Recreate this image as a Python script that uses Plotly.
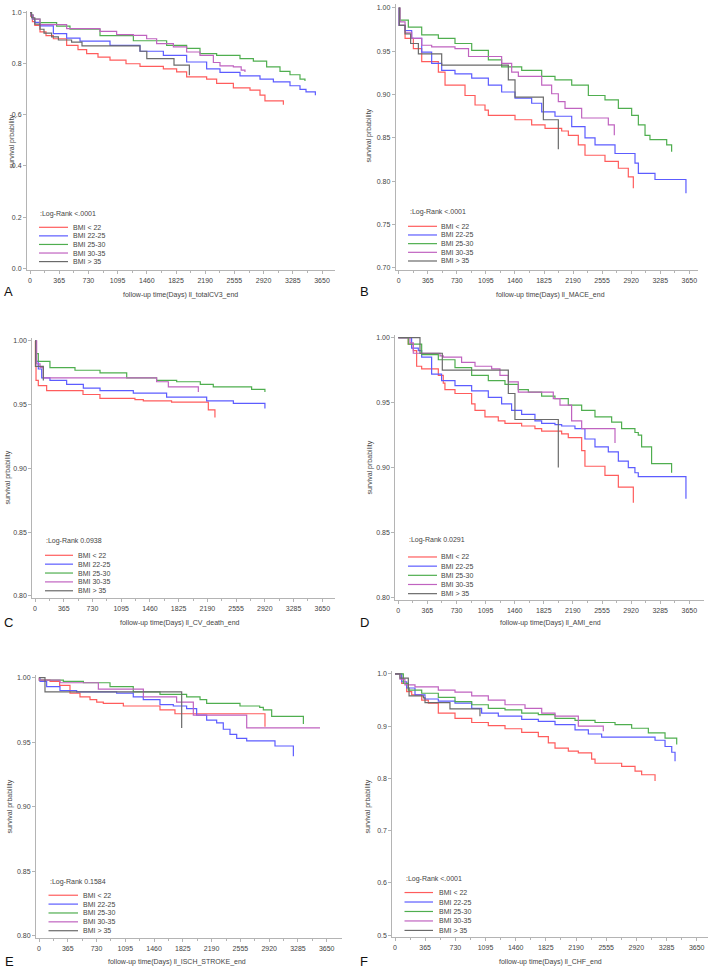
import plotly.graph_objects as go

W, H = 710, 970

GROUPS = ["BMI < 22", "BMI 22-25", "BMI 25-30", "BMI 30-35", "BMI > 35"]
COLORS = ["#ff5c5c", "#5c5cff", "#4fae4f", "#c063c0", "#6a6a6a"]
X_TICKS = [0, 365, 730, 1095, 1460, 1825, 2190, 2555, 2920, 3285, 3650]

# ---------------- Panel A : totalCV3 ----------------
A_T_LT22 = [0, 10, 30, 60, 125, 200, 292, 458, 600, 708, 850, 1000, 1200, 1375, 1667, 1833, 1958, 2208, 2333, 2542, 2750, 2875, 2937, 3167]
A_S_LT22 = [1, 0.985, 0.965, 0.95, 0.925, 0.91, 0.898, 0.872, 0.855, 0.84, 0.826, 0.814, 0.80, 0.79, 0.78, 0.768, 0.749, 0.74, 0.723, 0.706, 0.697, 0.677, 0.655, 0.64]
A_T_22_25 = [0, 10, 30, 60, 125, 292, 458, 625, 1000, 1375, 1667, 1958, 2208, 2375, 2625, 2875, 3042, 3250, 3375, 3450, 3567]
A_S_22_25 = [1, 0.99, 0.975, 0.962, 0.948, 0.918, 0.90, 0.889, 0.872, 0.849, 0.833, 0.807, 0.78, 0.766, 0.753, 0.74, 0.729, 0.714, 0.70, 0.69, 0.677]
A_T_25_30 = [0, 10, 40, 125, 333, 500, 875, 1292, 1708, 1958, 2125, 2333, 2625, 2792, 2958, 3125, 3250, 3375, 3437]
A_S_25_30 = [1, 0.99, 0.975, 0.961, 0.947, 0.935, 0.91, 0.89, 0.872, 0.86, 0.84, 0.833, 0.82, 0.81, 0.788, 0.77, 0.757, 0.74, 0.733]
A_T_30_35 = [0, 10, 40, 125, 458, 875, 1083, 1292, 1458, 1583, 1792, 1958, 2125, 2292, 2375, 2542, 2640, 2687]
A_S_30_35 = [1, 0.99, 0.975, 0.953, 0.9375, 0.927, 0.914, 0.911, 0.898, 0.879, 0.866, 0.846, 0.833, 0.805, 0.792, 0.788, 0.775, 0.768]
A_T_GT35 = [0, 20, 60, 125, 175, 270, 355, 520, 650, 1375, 1460, 1800, 1992]
A_S_GT35 = [1, 0.98, 0.955, 0.935, 0.92, 0.905, 0.893, 0.885, 0.87, 0.849, 0.82, 0.795, 0.755]

# ---------------- Panel B : MACE ----------------
B_T_LT22 = [0, 5, 80, 184, 289, 498, 582, 833, 959, 1084, 1126, 1461, 1670, 1838, 2047, 2131, 2256, 2340, 2591, 2759, 2884, 2947]
B_S_LT22 = [1, 0.98, 0.965, 0.953, 0.938, 0.926, 0.911, 0.899, 0.888, 0.882, 0.876, 0.871, 0.865, 0.861, 0.858, 0.853, 0.842, 0.830, 0.823, 0.815, 0.805, 0.792]
B_T_22_25 = [0, 5, 80, 163, 289, 414, 540, 707, 917, 1126, 1293, 1461, 1670, 1796, 1963, 2173, 2340, 2466, 2717, 2968, 3010, 3219, 3608]
B_S_22_25 = [1, 0.98, 0.974, 0.965, 0.949, 0.936, 0.928, 0.924, 0.919, 0.911, 0.903, 0.896, 0.89, 0.88, 0.875, 0.863, 0.85, 0.842, 0.832, 0.821, 0.809, 0.802, 0.786]
B_T_25_30 = [0, 17, 121, 289, 498, 707, 917, 1126, 1293, 1545, 1796, 1963, 2173, 2382, 2591, 2759, 2926, 3010, 3094, 3156, 3366, 3428]
B_S_25_30 = [1, 0.986, 0.978, 0.969, 0.965, 0.959, 0.951, 0.94, 0.932, 0.928, 0.921, 0.917, 0.911, 0.899, 0.894, 0.884, 0.876, 0.865, 0.853, 0.848, 0.842, 0.834]
B_T_30_35 = [0, 17, 80, 163, 289, 414, 707, 877, 1293, 1419, 1503, 1796, 1921, 2005, 2089, 2298, 2633, 2708]
B_S_30_35 = [1, 0.984, 0.972, 0.965, 0.957, 0.955, 0.953, 0.944, 0.936, 0.926, 0.921, 0.911, 0.901, 0.892, 0.884, 0.873, 0.865, 0.853]
B_T_GT35 = [0, 8, 80, 150, 247, 540, 1377, 1461, 1817, 2005]
B_S_GT35 = [1, 0.98, 0.97, 0.959, 0.947, 0.934, 0.917, 0.897, 0.871, 0.837]

# ---------------- Panel C : CV death ----------------
C_T_LT22 = [0, 5, 13, 42, 148, 610, 825, 1270, 1376, 1735, 2202, 2286]
C_S_LT22 = [1, 0.98, 0.969, 0.965, 0.961, 0.958, 0.955, 0.954, 0.953, 0.952, 0.946, 0.94]
C_T_22_25 = [0, 13, 42, 85, 190, 402, 614, 826, 1249, 1672, 2181, 2520, 2921]
C_S_22_25 = [1, 0.984, 0.978, 0.971, 0.969, 0.966, 0.963, 0.961, 0.959, 0.956, 0.953, 0.951, 0.947]
C_T_25_30 = [0, 13, 42, 190, 508, 826, 1165, 1545, 1800, 2100, 2265, 2752, 2921]
C_S_25_30 = [1, 0.99, 0.984, 0.979, 0.977, 0.975, 0.971, 0.969, 0.968, 0.966, 0.964, 0.962, 0.96]
C_T_30_35 = [0, 21, 64, 106, 1545, 1694, 2075]
C_S_30_35 = [1, 0.982, 0.979, 0.971, 0.968, 0.964, 0.96]
C_T_GT35 = [0, 8, 106]
C_S_GT35 = [1, 0.98, 0.969]

# ---------------- Panel D : AMI ----------------
D_T_LT22 = [0, 125, 188, 230, 293, 502, 564, 585, 711, 920, 962, 1087, 1254, 1338, 1547, 1714, 1798, 2049, 2132, 2300, 2341, 2592, 2760, 2948]
D_S_LT22 = [1, 0.995, 0.99, 0.978, 0.976, 0.971, 0.965, 0.96, 0.957, 0.949, 0.944, 0.939, 0.936, 0.934, 0.932, 0.93, 0.928, 0.926, 0.923, 0.913, 0.901, 0.894, 0.885, 0.873]
D_T_22_25 = [0, 167, 251, 293, 418, 543, 711, 920, 1129, 1296, 1421, 1547, 1714, 1798, 1965, 2049, 2216, 2341, 2467, 2634, 2760, 2885, 2968, 3010, 3608]
D_S_22_25 = [1, 0.992, 0.99, 0.985, 0.972, 0.967, 0.963, 0.959, 0.954, 0.949, 0.944, 0.941, 0.936, 0.934, 0.933, 0.932, 0.93, 0.922, 0.916, 0.912, 0.905, 0.90, 0.896, 0.893, 0.876]
D_T_25_30 = [0, 125, 293, 502, 711, 920, 1129, 1338, 1505, 1631, 1798, 1965, 2132, 2300, 2467, 2676, 2801, 2968, 3010, 3052, 3177, 3428]
D_S_25_30 = [1, 0.995, 0.987, 0.983, 0.977, 0.971, 0.967, 0.964, 0.96, 0.958, 0.955, 0.953, 0.948, 0.944, 0.939, 0.935, 0.93, 0.927, 0.925, 0.916, 0.903, 0.896]
D_T_30_35 = [0, 146, 188, 523, 564, 794, 962, 1171, 1275, 1380, 1505, 1944, 2028, 2174, 2300, 2718]
D_S_30_35 = [1, 0.996, 0.988, 0.986, 0.985, 0.981, 0.978, 0.976, 0.971, 0.966, 0.958, 0.953, 0.948, 0.936, 0.93, 0.919]
D_T_GT35 = [0, 272, 552, 1380, 1463, 2007]
D_S_GT35 = [1, 0.988, 0.975, 0.957, 0.937, 0.90]

# ---------------- Panel E : ischemic stroke ----------------
E_T_LT22 = [0, 5, 140, 262, 393, 520, 647, 732, 816, 1070, 1535, 1725, 2867]
E_S_LT22 = [1, 0.998, 0.997, 0.994, 0.988, 0.985, 0.983, 0.981, 0.98, 0.978, 0.975, 0.972, 0.962]
E_T_22_25 = [0, 13, 97, 266, 478, 985, 1196, 1323, 1535, 1704, 1873, 2000, 2127, 2254, 2338, 2423, 2508, 2635, 2994, 3227]
E_S_22_25 = [1, 0.997, 0.993, 0.99, 0.989, 0.988, 0.985, 0.983, 0.979, 0.978, 0.976, 0.971, 0.967, 0.965, 0.96, 0.956, 0.953, 0.951, 0.947, 0.939]
E_T_25_30 = [0, 5, 309, 563, 901, 1196, 1535, 1873, 2043, 2127, 2550, 2800, 2846, 2952, 3354]
E_S_25_30 = [1, 0.998, 0.997, 0.996, 0.993, 0.989, 0.987, 0.985, 0.983, 0.98, 0.978, 0.977, 0.975, 0.97, 0.964]
E_T_30_35 = [0, 5, 266, 753, 1324, 1746, 1958, 2635, 3565]
E_S_30_35 = [1, 0.998, 0.996, 0.991, 0.985, 0.981, 0.971, 0.961, 0.961]
E_T_GT35 = [0, 76, 1810]
E_S_GT35 = [1, 0.989, 0.961]

# ---------------- Panel F : CHF ----------------
F_T_LT22 = [0, 81, 141, 202, 323, 403, 524, 726, 928, 1129, 1331, 1533, 1734, 1855, 1936, 2097, 2218, 2379, 2420, 2742, 2904, 2984, 3146]
F_S_LT22 = [1, 0.982, 0.966, 0.96, 0.95, 0.944, 0.925, 0.915, 0.907, 0.901, 0.895, 0.888, 0.88, 0.868, 0.858, 0.852, 0.849, 0.837, 0.829, 0.823, 0.814, 0.807, 0.795]
F_T_22_25 = [0, 81, 141, 242, 363, 524, 726, 928, 1048, 1250, 1533, 1734, 1936, 2178, 2339, 2500, 3146, 3267, 3348, 3388]
F_S_22_25 = [1, 0.985, 0.973, 0.96, 0.952, 0.948, 0.944, 0.934, 0.925, 0.919, 0.913, 0.909, 0.903, 0.893, 0.885, 0.879, 0.873, 0.861, 0.85, 0.833]
F_T_25_30 = [0, 101, 161, 323, 524, 726, 928, 1129, 1331, 1533, 1734, 1936, 2178, 2420, 2662, 2863, 3065, 3267, 3408]
F_S_25_30 = [1, 0.982, 0.969, 0.963, 0.955, 0.947, 0.941, 0.934, 0.931, 0.925, 0.922, 0.915, 0.911, 0.907, 0.903, 0.896, 0.887, 0.877, 0.865]
F_T_30_35 = [0, 60, 120, 242, 524, 726, 928, 1129, 1331, 1573, 1775, 1936, 2218, 2520]
F_S_30_35 = [1, 0.99, 0.979, 0.975, 0.969, 0.965, 0.958, 0.95, 0.941, 0.934, 0.925, 0.919, 0.90, 0.89]
F_T_GT35 = [0, 60, 161, 170, 343, 363, 665, 1028]
F_S_GT35 = [1, 0.992, 0.973, 0.958, 0.954, 0.945, 0.933, 0.919]

PANEL_LETTERS = ["A", "B", "C", "D", "E", "F"]
ENDPOINTS = ["ll_totalCV3_end", "ll_MACE_end", "ll_CV_death_end", "ll_AMI_end", "ll_ISCH_STROKE_end", "ll_CHF_end"]
LOGRANK = [":Log-Rank <.0001", ":Log-Rank <.0001", ":Log-Rank 0.0938", ":Log-Rank 0.0291", ":Log-Rank 0.1584", ":Log-Rank <.0001"]
Y_TICKS = [
    [0.0, 0.2, 0.4, 0.6, 0.8, 1.0],
    [0.70, 0.75, 0.80, 0.85, 0.90, 0.95, 1.00],
    [0.80, 0.85, 0.90, 0.95, 1.00],
    [0.80, 0.85, 0.90, 0.95, 1.00],
    [0.80, 0.85, 0.90, 0.95, 1.00],
    [0.5, 0.6, 0.7, 0.8, 0.9, 1.0],
]
Y_FMT = [".1f", ".2f", ".2f", ".2f", ".2f", ".1f"]

CURVES = [
    [(A_T_LT22, A_S_LT22), (A_T_22_25, A_S_22_25), (A_T_25_30, A_S_25_30), (A_T_30_35, A_S_30_35), (A_T_GT35, A_S_GT35)],
    [(B_T_LT22, B_S_LT22), (B_T_22_25, B_S_22_25), (B_T_25_30, B_S_25_30), (B_T_30_35, B_S_30_35), (B_T_GT35, B_S_GT35)],
    [(C_T_LT22, C_S_LT22), (C_T_22_25, C_S_22_25), (C_T_25_30, C_S_25_30), (C_T_30_35, C_S_30_35), (C_T_GT35, C_S_GT35)],
    [(D_T_LT22, D_S_LT22), (D_T_22_25, D_S_22_25), (D_T_25_30, D_S_25_30), (D_T_30_35, D_S_30_35), (D_T_GT35, D_S_GT35)],
    [(E_T_LT22, E_S_LT22), (E_T_22_25, E_S_22_25), (E_T_25_30, E_S_25_30), (E_T_30_35, E_S_30_35), (E_T_GT35, E_S_GT35)],
    [(F_T_LT22, F_S_LT22), (F_T_22_25, F_S_22_25), (F_T_25_30, F_S_25_30), (F_T_30_35, F_S_30_35), (F_T_GT35, F_S_GT35)],
]

# ---- layout geometry (pixels) ----
GEOM = [
    dict(xl=27, x0=30, x1=322, xr=335, yt=9, yb=269, v_hi=1.0, p_hi=10.7, v_lo=0.0, p_lo=267),
    dict(xl=395.7, x0=398.7, x1=689.3, xr=698, yt=2, yb=269, v_hi=1.0, p_hi=6, v_lo=0.70, p_lo=266.7),
    dict(xl=32.3, x0=35, x1=322.3, xr=335, yt=337, yb=598.3, v_hi=1.0, p_hi=340, v_lo=0.80, p_lo=595.7),
    dict(xl=395.3, x0=398.3, x1=689.3, xr=704, yt=334, yb=600, v_hi=1.0, p_hi=336.7, v_lo=0.80, p_lo=597.3),
    dict(xl=36, x0=39, x1=326.7, xr=342, yt=675, yb=939.3, v_hi=1.0, p_hi=677.7, v_lo=0.80, p_lo=936.7),
    dict(xl=392.3, x0=395, x1=696.7, xr=708, yt=671, yb=938.3, v_hi=1.0, p_hi=674, v_lo=0.50, p_lo=936),
]
LETTER_POS = [(8, 290), (364, 290), (8, 622), (364, 622), (9, 962), (364, 962)]
XTITLE_POS = [(180, 294), (550, 294), (180, 623), (550, 623), (177, 963), (550, 963)]
YTITLE_POS = [(12, 140), (369, 134), (8, 477), (370, 467), (10, 807), (368, 807)]
LEG_POS = [
    (38, 212.5, 39, 68, 226, 8.6, 71),
    (408, 210.7, 408, 437, 225, 8.7, 439),
    (44, 541, 45, 73, 555, 8.9, 76),
    (407, 540, 408, 437, 556.7, 9.2, 439),
    (48, 882.7, 48.5, 78, 896, 8.9, 81),
    (404, 880, 404.5, 433, 893.3, 9.5, 437),
]

FONT = "Liberation Sans Narrow, Arial Narrow, Liberation Sans, sans-serif"
TXT = "#444444"
AXC = "#b4b4b4"

def px(x):
    return x / W

def py(y):
    return 1 - y / H

fig = go.Figure()
layout = dict(
    width=W, height=H, margin=dict(l=0, r=0, t=0, b=0),
    paper_bgcolor="white", plot_bgcolor="white", showlegend=False,
    font=dict(family=FONT, size=7, color=TXT),
)
annotations = []
shapes = []

for i in range(6):
    g = GEOM[i]
    n = "" if i == 0 else str(i + 1)
    sx = (g["x1"] - g["x0"]) / 3650.0
    xr = [(g["xl"] - g["x0"]) / sx, (g["xr"] - g["x0"]) / sx]
    sy = (g["p_lo"] - g["p_hi"]) / (g["v_hi"] - g["v_lo"])
    yr = [g["v_lo"] - (g["yb"] - g["p_lo"]) / sy, g["v_hi"] + (g["p_hi"] - g["yt"]) / sy]
    layout["xaxis" + n] = dict(
        domain=[px(g["xl"]), px(g["xr"])], range=xr, anchor="y" + n,
        tickmode="array", tickvals=X_TICKS, ticktext=[str(v) for v in X_TICKS],
        showline=True, linecolor=AXC, linewidth=1, ticks="outside", ticklen=3,
        tickcolor=AXC, showgrid=False, zeroline=False, ticklabeloverflow="allow",
        minor=dict(tickmode="array", tickvals=[v + 182.5 for v in X_TICKS[:-1]],
                   ticks="outside", ticklen=2, tickcolor=AXC),
        tickfont=dict(family=FONT, size=7, color=TXT),
    )
    layout["yaxis" + n] = dict(
        domain=[py(g["yb"]), py(g["yt"])], range=yr, anchor="x" + n,
        tickmode="array", tickvals=Y_TICKS[i], tickformat=Y_FMT[i],
        showline=True, linecolor=AXC, linewidth=1, ticks="outside", ticklen=3,
        tickcolor=AXC, showgrid=False, zeroline=False,
        tickfont=dict(family=FONT, size=7, color=TXT),
    )
    for k, (t, s) in enumerate(CURVES[i]):
        fig.add_trace(go.Scatter(
            x=t, y=s, mode="lines", line=dict(color=COLORS[k], width=1.2, shape="hv"),
            name=GROUPS[k], xaxis="x" + n, yaxis="y" + n, hoverinfo="skip",
        ))
    lx, ly = LETTER_POS[i]
    annotations.append(dict(text=PANEL_LETTERS[i], x=px(lx), y=py(ly), xref="paper", yref="paper",
                            showarrow=False, xanchor="center", yanchor="middle",
                            font=dict(family="Liberation Sans, sans-serif", size=13, color="#111111")))
    tx, ty = XTITLE_POS[i]
    annotations.append(dict(text="follow-up time(Days) " + ENDPOINTS[i], x=px(tx), y=py(ty),
                            xref="paper", yref="paper", showarrow=False,
                            xanchor="center", yanchor="middle", font=dict(size=7, color=TXT)))
    yx, yy = YTITLE_POS[i]
    annotations.append(dict(text="survival prbability", x=px(yx), y=py(yy), xref="paper", yref="paper",
                            showarrow=False, textangle=-90, xanchor="center", yanchor="middle",
                            font=dict(size=7, color=TXT)))
    lxt, lyt, lx0, lx1, ly0, dy, llx = LEG_POS[i]
    annotations.append(dict(text=LOGRANK[i], x=px(lxt), y=py(lyt), xref="paper", yref="paper",
                            showarrow=False, xanchor="left", yanchor="middle",
                            font=dict(size=7, color=TXT)))
    for k in range(5):
        yk = ly0 + k * dy
        shapes.append(dict(type="line", xref="paper", yref="paper", x0=px(lx0), x1=px(lx1),
                           y0=py(yk), y1=py(yk), line=dict(color=COLORS[k], width=1.2)))
        annotations.append(dict(text=GROUPS[k], x=px(llx), y=py(yk), xref="paper", yref="paper",
                                showarrow=False, xanchor="left", yanchor="middle",
                                font=dict(size=7, color=TXT)))

layout["annotations"] = annotations
layout["shapes"] = shapes
fig.update_layout(**layout)
fig.write_html(
    "out.html",
    config={"displayModeBar": False, "staticPlot": True},
    post_script="document.body.style.margin='0px';document.body.style.padding='0px';",
)
